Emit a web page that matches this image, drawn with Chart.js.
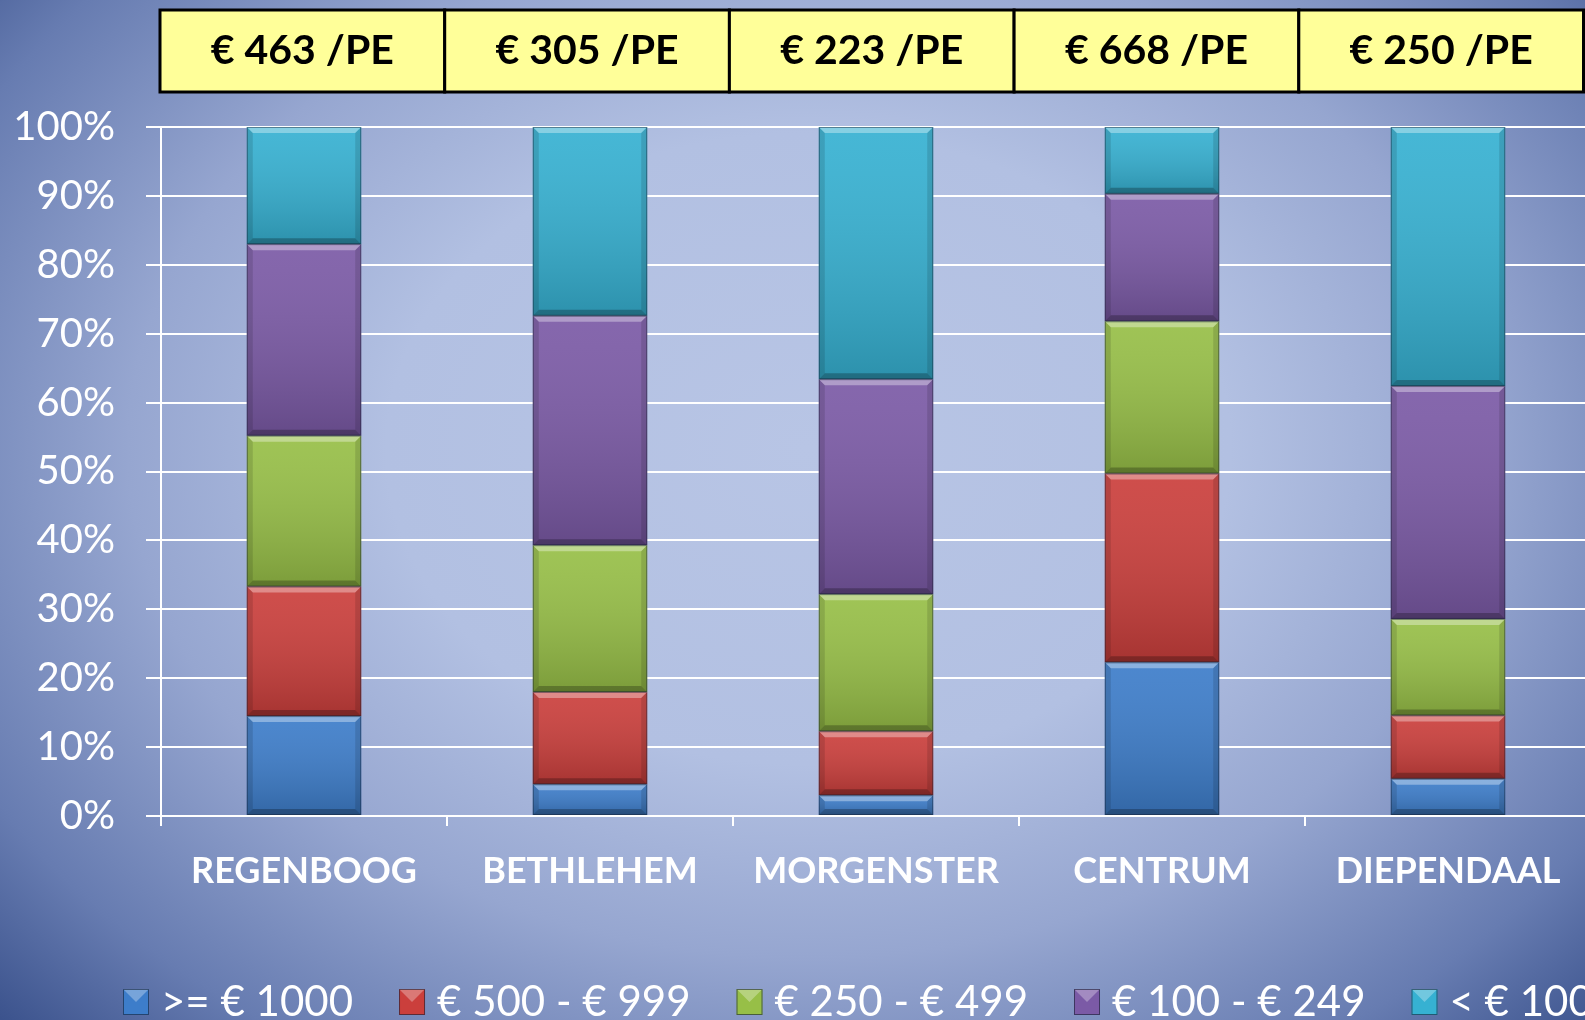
<!DOCTYPE html>
<html>
<head>
<meta charset="utf-8">
<script src="https://cdn.jsdelivr.net/npm/chart.js@4"></script>
<style>
  html, body { margin: 0; padding: 0; }
  body {
    width: 1585px; height: 1020px; overflow: hidden;
    background: radial-gradient(ellipse 74% 86% at 51% 44%, #b8c5e5 0%, #b2c0e2 36%, #96a6d0 58%, #677cb1 80%, #2c4480 100%);
  }
  #wrap { position: absolute; left: 0; top: 0; width: 1600px; height: 1020px; }
</style>
</head>
<body>
<div id="wrap"><canvas id="myChart" width="1600" height="1020"></canvas></div>
<script>
// schools and cost per pupil (header row)
const schools = ['REGENBOOG', 'BETHLEHEM', 'MORGENSTER', 'CENTRUM', 'DIEPENDAAL'];
const perPE = [463, 305, 223, 668, 250];

// share of pupils per cost class, in %
const cls1000 = [14.5, 4.6, 3.0, 22.3, 5.4];
const cls500 = [18.8, 13.4, 9.3, 27.4, 9.2];
const cls250 = [21.9, 21.3, 19.9, 22.1, 14.0];
const cls100 = [27.8, 33.3, 31.2, 18.5, 33.8];
const clsLow = [17.0, 27.4, 36.6, 9.7, 37.6];

const seriesNames = ['>= € 1000', '€ 500 - € 999', '€ 250 - € 499', '€ 100 - € 249', '< € 100'];
const yTicks = [0, 10, 20, 30, 40, 50, 60, 70, 80, 90, 100];

const colors = ['#3d7dca', '#cb3f3c', '#97bf47', '#7b5aa6', '#36b1d2'];

// bevel look on the segments
const bevel = {
  id: 'bevel',
  afterDatasetsDraw(chart) {
    const ctx = chart.ctx;
    chart.data.datasets.forEach((ds, di) => {
      chart.getDatasetMeta(di).data.forEach(bar => {
        const p = bar.getProps(['x', 'y', 'base', 'width'], true);
        const l = p.x - p.width / 2, r = p.x + p.width / 2;
        const t = Math.min(p.y, p.base), b = Math.max(p.y, p.base);
        const h = b - t;
        if (h < 1) return;
        const e = Math.min(6, h / 2);
        ctx.save();
        let g = ctx.createLinearGradient(0, t, 0, b);
        g.addColorStop(0, 'rgba(255,255,255,0.08)');
        g.addColorStop(1, 'rgba(0,0,0,0.18)');
        ctx.fillStyle = g;
        ctx.fillRect(l, t, r - l, h);
        // top edge
        ctx.fillStyle = 'rgba(255,255,255,0.35)';
        ctx.beginPath();
        ctx.moveTo(l, t); ctx.lineTo(r, t); ctx.lineTo(r - e, t + e); ctx.lineTo(l + e, t + e);
        ctx.fill();
        // bottom edge
        ctx.fillStyle = 'rgba(0,0,0,0.25)';
        ctx.beginPath();
        ctx.moveTo(l, b); ctx.lineTo(r, b); ctx.lineTo(r - e, b - e); ctx.lineTo(l + e, b - e);
        ctx.fill();
        // sides
        ctx.fillStyle = 'rgba(0,0,0,0.12)';
        ctx.beginPath();
        ctx.moveTo(l, t); ctx.lineTo(l + e, t + e); ctx.lineTo(l + e, b - e); ctx.lineTo(l, b);
        ctx.moveTo(r, t); ctx.lineTo(r - e, t + e); ctx.lineTo(r - e, b - e); ctx.lineTo(r, b);
        ctx.fill();
        ctx.strokeStyle = 'rgba(20,30,50,0.45)';
        ctx.lineWidth = 1;
        ctx.strokeRect(l + 0.5, t + 0.5, r - l - 1, h - 1);
        ctx.restore();
      });
    });
  }
};

// yellow header cells, one per category
const header = {
  id: 'header',
  afterDraw(chart) {
    const ctx = chart.ctx;
    const w = (chart.chartArea.right - chart.chartArea.left) / schools.length - 1.3;
    const x0 = chart.chartArea.left - 1;
    ctx.save();
    perPE.forEach((v, i) => {
      const lx = x0 + i * w;
      ctx.fillStyle = '#ffff99';
      ctx.fillRect(lx, 10, w, 82);
      ctx.strokeStyle = '#000';
      ctx.lineWidth = 3;
      ctx.strokeRect(lx, 10, w, 82);
      ctx.fillStyle = '#000';
      ctx.font = 'bold 41px Lato';
      ctx.textAlign = 'center';
      ctx.textBaseline = 'middle';
      ctx.fillText('€ ' + v + ' /PE', lx + w / 2, 51);
    });
    ctx.restore();
  }
};

// legend along the bottom
const bottomLegend = {
  id: 'bottomLegend',
  afterDraw(chart) {
    const ctx = chart.ctx;
    let x = 123;
    const y = 1002;
    ctx.save();
    ctx.font = '42px Lato';
    ctx.textBaseline = 'middle';
    chart.data.datasets.forEach(ds => {
      ctx.fillStyle = ds.backgroundColor;
      ctx.fillRect(x, y - 13, 26, 26);
      ctx.fillStyle = 'rgba(255,255,255,0.3)';
      ctx.beginPath();
      ctx.moveTo(x, y - 13); ctx.lineTo(x + 26, y - 13); ctx.lineTo(x + 13, y); ctx.fill();
      ctx.strokeStyle = 'rgba(20,30,50,0.6)';
      ctx.lineWidth = 1;
      ctx.strokeRect(x + 0.5, y - 12.5, 25, 25);
      ctx.fillStyle = '#fff';
      ctx.fillText(ds.label, x + 38, y);
      x += 38 + ctx.measureText(ds.label).width + 46;
    });
    ctx.restore();
  }
};

const allData = [cls1000, cls500, cls250, cls100, clsLow];

const myChart = new Chart(document.getElementById('myChart'), {
  type: 'bar',
  data: {
    labels: schools,
    datasets: allData.map((d, i) => ({
      label: seriesNames[i],
      data: d,
      backgroundColor: colors[i],
      borderWidth: 0,
      barPercentage: 0.4,
      categoryPercentage: 1
    }))
  },
  options: {
    responsive: false,
    animation: false,
    devicePixelRatio: 1,
    layout: { padding: { top: 127, right: 9, left: 0, bottom: 0 } },
    plugins: {
      legend: { display: false },
      tooltip: { enabled: false }
    },
    scales: {
      x: {
        stacked: true,
        afterFit(s) { s.height = 204; },
        grid: { drawOnChartArea: false, drawTicks: true, tickLength: 10, color: '#fff', lineWidth: 2 },
        border: { color: '#fff', width: 2 },
        ticks: { color: '#fff', font: { family: 'Lato', size: 36, weight: 'bold' }, padding: 24 }
      },
      y: {
        stacked: true,
        min: 0,
        max: 100,
        afterFit(s) { s.width = 161; },
        afterBuildTicks(s) { s.ticks = yTicks.map(v => ({ value: v })); },
        grid: { color: '#fff', lineWidth: 2, tickLength: 15 },
        border: { color: '#fff', width: 2 },
        ticks: { color: '#fff', font: { family: 'Lato', size: 40 }, padding: 31, callback: v => v + '%' }
      }
    }
  },
  plugins: [bevel, header, bottomLegend]
});
</script>
</body>
</html>
